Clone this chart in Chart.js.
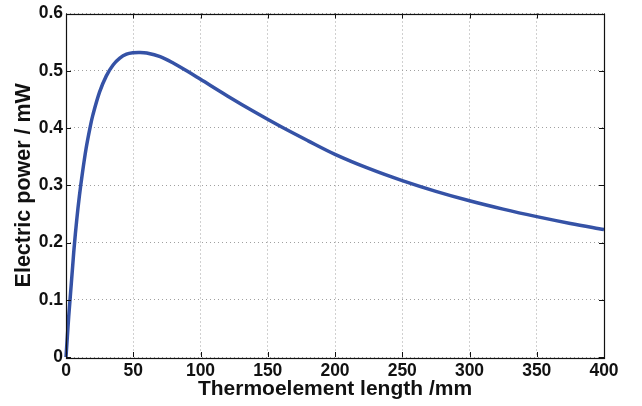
<!DOCTYPE html>
<html>
<head>
<meta charset="utf-8">
<script src="https://cdn.jsdelivr.net/npm/chart.js@4"></script>
<style>
  html, body { margin: 0; padding: 0; background: #fff; }
  #wrap { width: 642px; height: 406px; }
</style>
</head>
<body>
<div id="wrap"><canvas id="c" width="642" height="406"></canvas></div>
<script>
// Data
const lengths = [0, 1, 2, 3, 4, 5, 6, 8, 10, 12, 15, 18, 20, 25, 30, 35, 40, 45, 50, 55, 60, 70, 80, 90, 100, 120, 140, 160, 180, 200, 225, 250, 275, 300, 325, 350, 375, 400];
const power =   [0, 0.035, 0.07, 0.10, 0.13, 0.16, 0.19, 0.24, 0.282, 0.318, 0.365, 0.402, 0.423, 0.463, 0.491, 0.510, 0.522, 0.529, 0.5315, 0.532, 0.531, 0.5245, 0.513, 0.4994, 0.485, 0.456, 0.4283, 0.4021, 0.3776, 0.354, 0.3294, 0.3081, 0.2894, 0.2729, 0.2583, 0.2452, 0.2333, 0.2227];
const xTicks = [0, 50, 100, 150, 200, 250, 300, 350, 400];
const yTicks = [0, 0.1, 0.2, 0.3, 0.4, 0.5, 0.6];
const xTitle = 'Thermoelement length /mm';
const yTitle = 'Electric power / mW';

const FONT = "'Liberation Sans', Arial, Helvetica, sans-serif";

const boxPlugin = {
  id: 'matlabBox',
  afterDatasetsDraw(chart) {
    const {ctx, chartArea: a, scales: {x, y}} = chart;
    ctx.save();
    ctx.strokeStyle = '#111';
    ctx.lineWidth = 1;
    const L = 5;
    ctx.beginPath();
    xTicks.forEach(v => {
      const px = Math.round(x.getPixelForValue(v)) + 0.5;
      ctx.moveTo(px, a.bottom); ctx.lineTo(px, a.bottom - L);
      ctx.moveTo(px, a.top); ctx.lineTo(px, a.top + L);
    });
    yTicks.forEach(v => {
      const py = Math.round(y.getPixelForValue(v)) + 0.5;
      ctx.moveTo(a.left, py); ctx.lineTo(a.left + L, py);
      ctx.moveTo(a.right, py); ctx.lineTo(a.right - L, py);
    });
    ctx.stroke();
    ctx.lineWidth = 1.2;
    ctx.strokeRect(Math.round(a.left) + 0.5, Math.round(a.top) + 0.5, Math.round(a.right - a.left), Math.round(a.bottom - a.top));
    ctx.restore();
  }
};

new Chart(document.getElementById('c'), {
  type: 'line',
  data: {
    datasets: [{
      data: lengths.map((v, i) => ({x: v, y: power[i]})),
      borderColor: '#3552a6',
      borderWidth: 3.5,
      pointRadius: 0,
      fill: false,
      tension: 0.35,
      clip: 4
    }]
  },
  options: {
    responsive: false,
    animation: false,
    devicePixelRatio: 1,
    layout: { padding: { left: 0, right: 38, top: 10, bottom: 0 } },
    plugins: { legend: { display: false }, tooltip: { enabled: false } },
    scales: {
      x: {
        type: 'linear', min: 0, max: 400,
        afterBuildTicks(s) { s.ticks = xTicks.map(v => ({value: v})); },
        afterFit(s) { s.height = 49; },
        grid: { color: '#a0a0a0', drawTicks: false, lineWidth: 1 },
        border: { display: false, dash: [1, 3] },
        ticks: { color: '#111', font: { family: FONT, size: 17.5, weight: 'bold' }, padding: 4, maxRotation: 0 },
        title: { display: true, text: xTitle, color: '#111', font: { family: FONT, size: 21, weight: 'bold' }, padding: { top: 0, bottom: 4 } }
      },
      y: {
        type: 'linear', min: 0, max: 0.6,
        afterBuildTicks(s) { s.ticks = yTicks.map(v => ({value: v})); },
        afterFit(s) { s.width = 66; },
        grid: { color: '#a0a0a0', drawTicks: false, lineWidth: 1 },
        border: { display: false, dash: [1, 3] },
        ticks: { color: '#111', font: { family: FONT, size: 17.5, weight: 'bold' }, padding: 3,
          callback: v => String(Math.round(v * 10) / 10) },
        title: { display: true, text: yTitle, color: '#111', font: { family: FONT, size: 21.5, weight: 'bold' }, padding: { top: 11, bottom: 0 } }
      }
    }
  },
  plugins: [boxPlugin]
});
</script>
</body>
</html>
